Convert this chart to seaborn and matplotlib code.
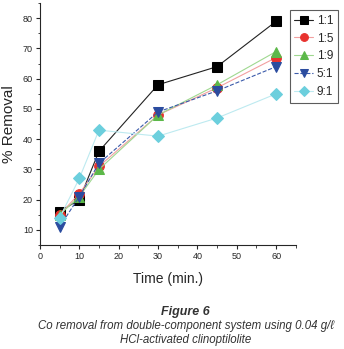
import matplotlib
matplotlib.use("Agg")
import matplotlib.pyplot as plt
import seaborn as sns
import pandas as pd
from matplotlib.ticker import MultipleLocator

sns.set_style("ticks")
plt.rcParams['font.family'] = ['Liberation Sans', 'DejaVu Sans']

time_min = [5, 10, 15, 30, 45, 60]
series_names = ["1:1", "1:5", "1:9", "5:1", "9:1"]
r_1_1 = [16, 20, 36, 58, 64, 79]
r_1_5 = [15, 22, 31, 48, 57, 67]
r_1_9 = [15, 21, 30, 48, 58, 69]
r_5_1 = [11, 21, 32, 49, 56, 64]
r_9_1 = [14, 27, 43, 41, 47, 55]
values = [r_1_1, r_1_5, r_1_9, r_5_1, r_9_1]

rows = []
for name, vals in zip(series_names, values):
    for t, v in zip(time_min, vals):
        rows.append({"Time": t, "Removal": v, "Ratio": name})
df = pd.DataFrame(rows)

marker_colors = ["#000000", "#e8322e", "#5cb849", "#2b4c9f", "#6ccfdd"]
line_colors = ["#222222", "#f2a0a0", "#9fd890", "#3a5aaa", "#bdeaf0"]
markers = ["s", "o", "^", "v", "D"]

fig = plt.figure(figsize=(3.44, 3.49), dpi=100)
ax = fig.add_axes([0.116, 0.298, 0.744, 0.693])

for i, name in enumerate(series_names):
    sub = df[df["Ratio"] == name]
    sns.lineplot(data=sub, x="Time", y="Removal", ax=ax, color=line_colors[i],
                 linewidth=0.8, marker=markers[i], markersize=7 if markers[i] != "D" else 6.5,
                 markerfacecolor=marker_colors[i], markeredgecolor=marker_colors[i],
                 label=name, linestyle="--" if name == "5:1" else "-")

ax.set_xlim(0, 65)
ax.set_ylim(5, 85)
ax.xaxis.set_major_locator(MultipleLocator(10))
ax.xaxis.set_minor_locator(MultipleLocator(5))
ax.yaxis.set_minor_locator(MultipleLocator(5))
ax.set_yticks([10, 20, 30, 40, 50, 60, 70, 80])
ax.tick_params(axis='both', which='major', labelsize=6.5, length=3, width=0.8, direction='out', pad=2)
ax.tick_params(axis='both', which='minor', length=1.8, width=0.6, direction='out')
sns.despine(ax=ax)
for s in ["left", "bottom"]:
    ax.spines[s].set_linewidth(0.8)

ax.set_xlabel("Time (min.)", fontsize=10, labelpad=8)
ax.set_ylabel("% Removal", fontsize=11, labelpad=5)

leg = ax.legend(loc="upper right", bbox_to_anchor=(1.165, 0.972), fontsize=8.5,
                frameon=True, fancybox=False, edgecolor="#333333",
                handlelength=1.6, handletextpad=0.3, borderpad=0.4,
                labelspacing=0.5, markerscale=0.8, borderaxespad=0)
leg.get_frame().set_linewidth(0.8)

fig.text(0.54, 0.097, "Figure 6", ha="center", fontsize=9, fontweight="bold", style="italic", color="#333333")
fig.text(0.54, 0.056, "Co removal from double-component system using 0.04 g/\u2113", ha="center",
         fontsize=8.3, style="italic", color="#333333")
fig.text(0.54, 0.018, "HCl-activated clinoptilolite", ha="center", fontsize=8.3, style="italic", color="#333333")

fig.savefig("out.png", dpi=100)
